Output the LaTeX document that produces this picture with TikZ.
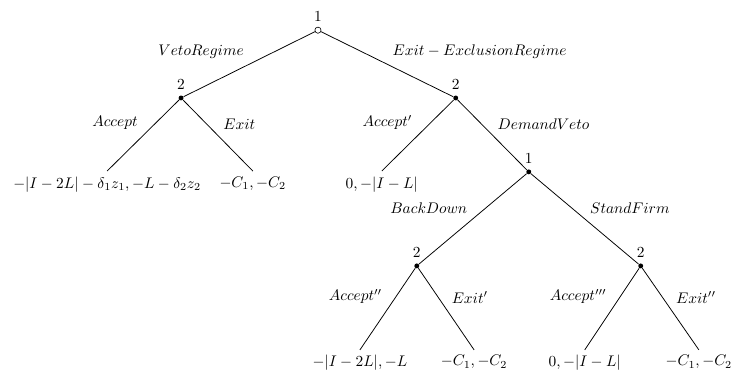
\documentclass[tikz,border=0pt]{standalone}
\usepackage{amsmath,amssymb}
\usepackage{tikz}
\usetikzlibrary{positioning}

\begin{document}
\begin{tikzpicture}[scale=1.0,
  line width=0.5pt,
  decision/.style={circle, fill, inner sep=0pt, minimum size=3.2pt},
  start/.style={circle, draw, fill=white, inner sep=0pt, minimum size=4pt, line width=0.4pt},
  payoff/.style={anchor=north}]
\useasboundingbox (0,0) rectangle (16.76,8.62);
% decision nodes
\node[start, label=above:$1$] (root) at (7.27,7.93) {};
\node[decision, label=above:$2$] (veto) at (4.14,6.38) {};
\node[decision, label=above:$2$] (excl) at (10.42,6.38) {};
\node[decision, label=above:$1$] (demand) at (12.09,4.69) {};
\node[decision, label=above:$2$] (back) at (9.53,2.54) {};
\node[decision, label=above:$2$] (firm) at (14.65,2.54) {};
% payoffs
\node[payoff] (p1) at (2.45,4.71) {$-|I-2L|-\delta_1 z_1, -L-\delta_2 z_2$};
\node[payoff] (p2) at (5.78,4.71) {$-C_1, -C_2$};
\node[payoff] (p3) at (8.73,4.71) {$0, -|I-L|$};
\node[payoff] (p4) at (8.23,0.62) {$-|I-2L|, -L$};
\node[payoff] (p5) at (10.84,0.62) {$-C_1, -C_2$};
\node[payoff] (p6) at (13.37,0.62) {$0, -|I-L|$};
\node[payoff] (p7) at (15.98,0.62) {$-C_1, -C_2$};
% branches
\draw (root) -- node[above left] {$VetoRegime$} (veto);
\draw (root) -- node[above right] {$Exit-ExclusionRegime$} (excl);
\draw (veto) -- node[above left] {$Accept$} (p1.north);
\draw (veto) -- node[above right] {$Exit$} (p2.north);
\draw (excl) -- node[above left] {$Accept'$} (p3.north);
\draw (excl) -- node[above right] {$DemandVeto$} (demand);
\draw (demand) -- node[above left] {$BackDown$} (back);
\draw (demand) -- node[above right] {$StandFirm$} (firm);
\draw (back) -- node[above left] {$Accept''$} (p4.north);
\draw (back) -- node[above right] {$Exit'$} (p5.north);
\draw (firm) -- node[above left] {$Accept'''$} (p6.north);
\draw (firm) -- node[above right] {$Exit''$} (p7.north);
\end{tikzpicture}
\end{document}
